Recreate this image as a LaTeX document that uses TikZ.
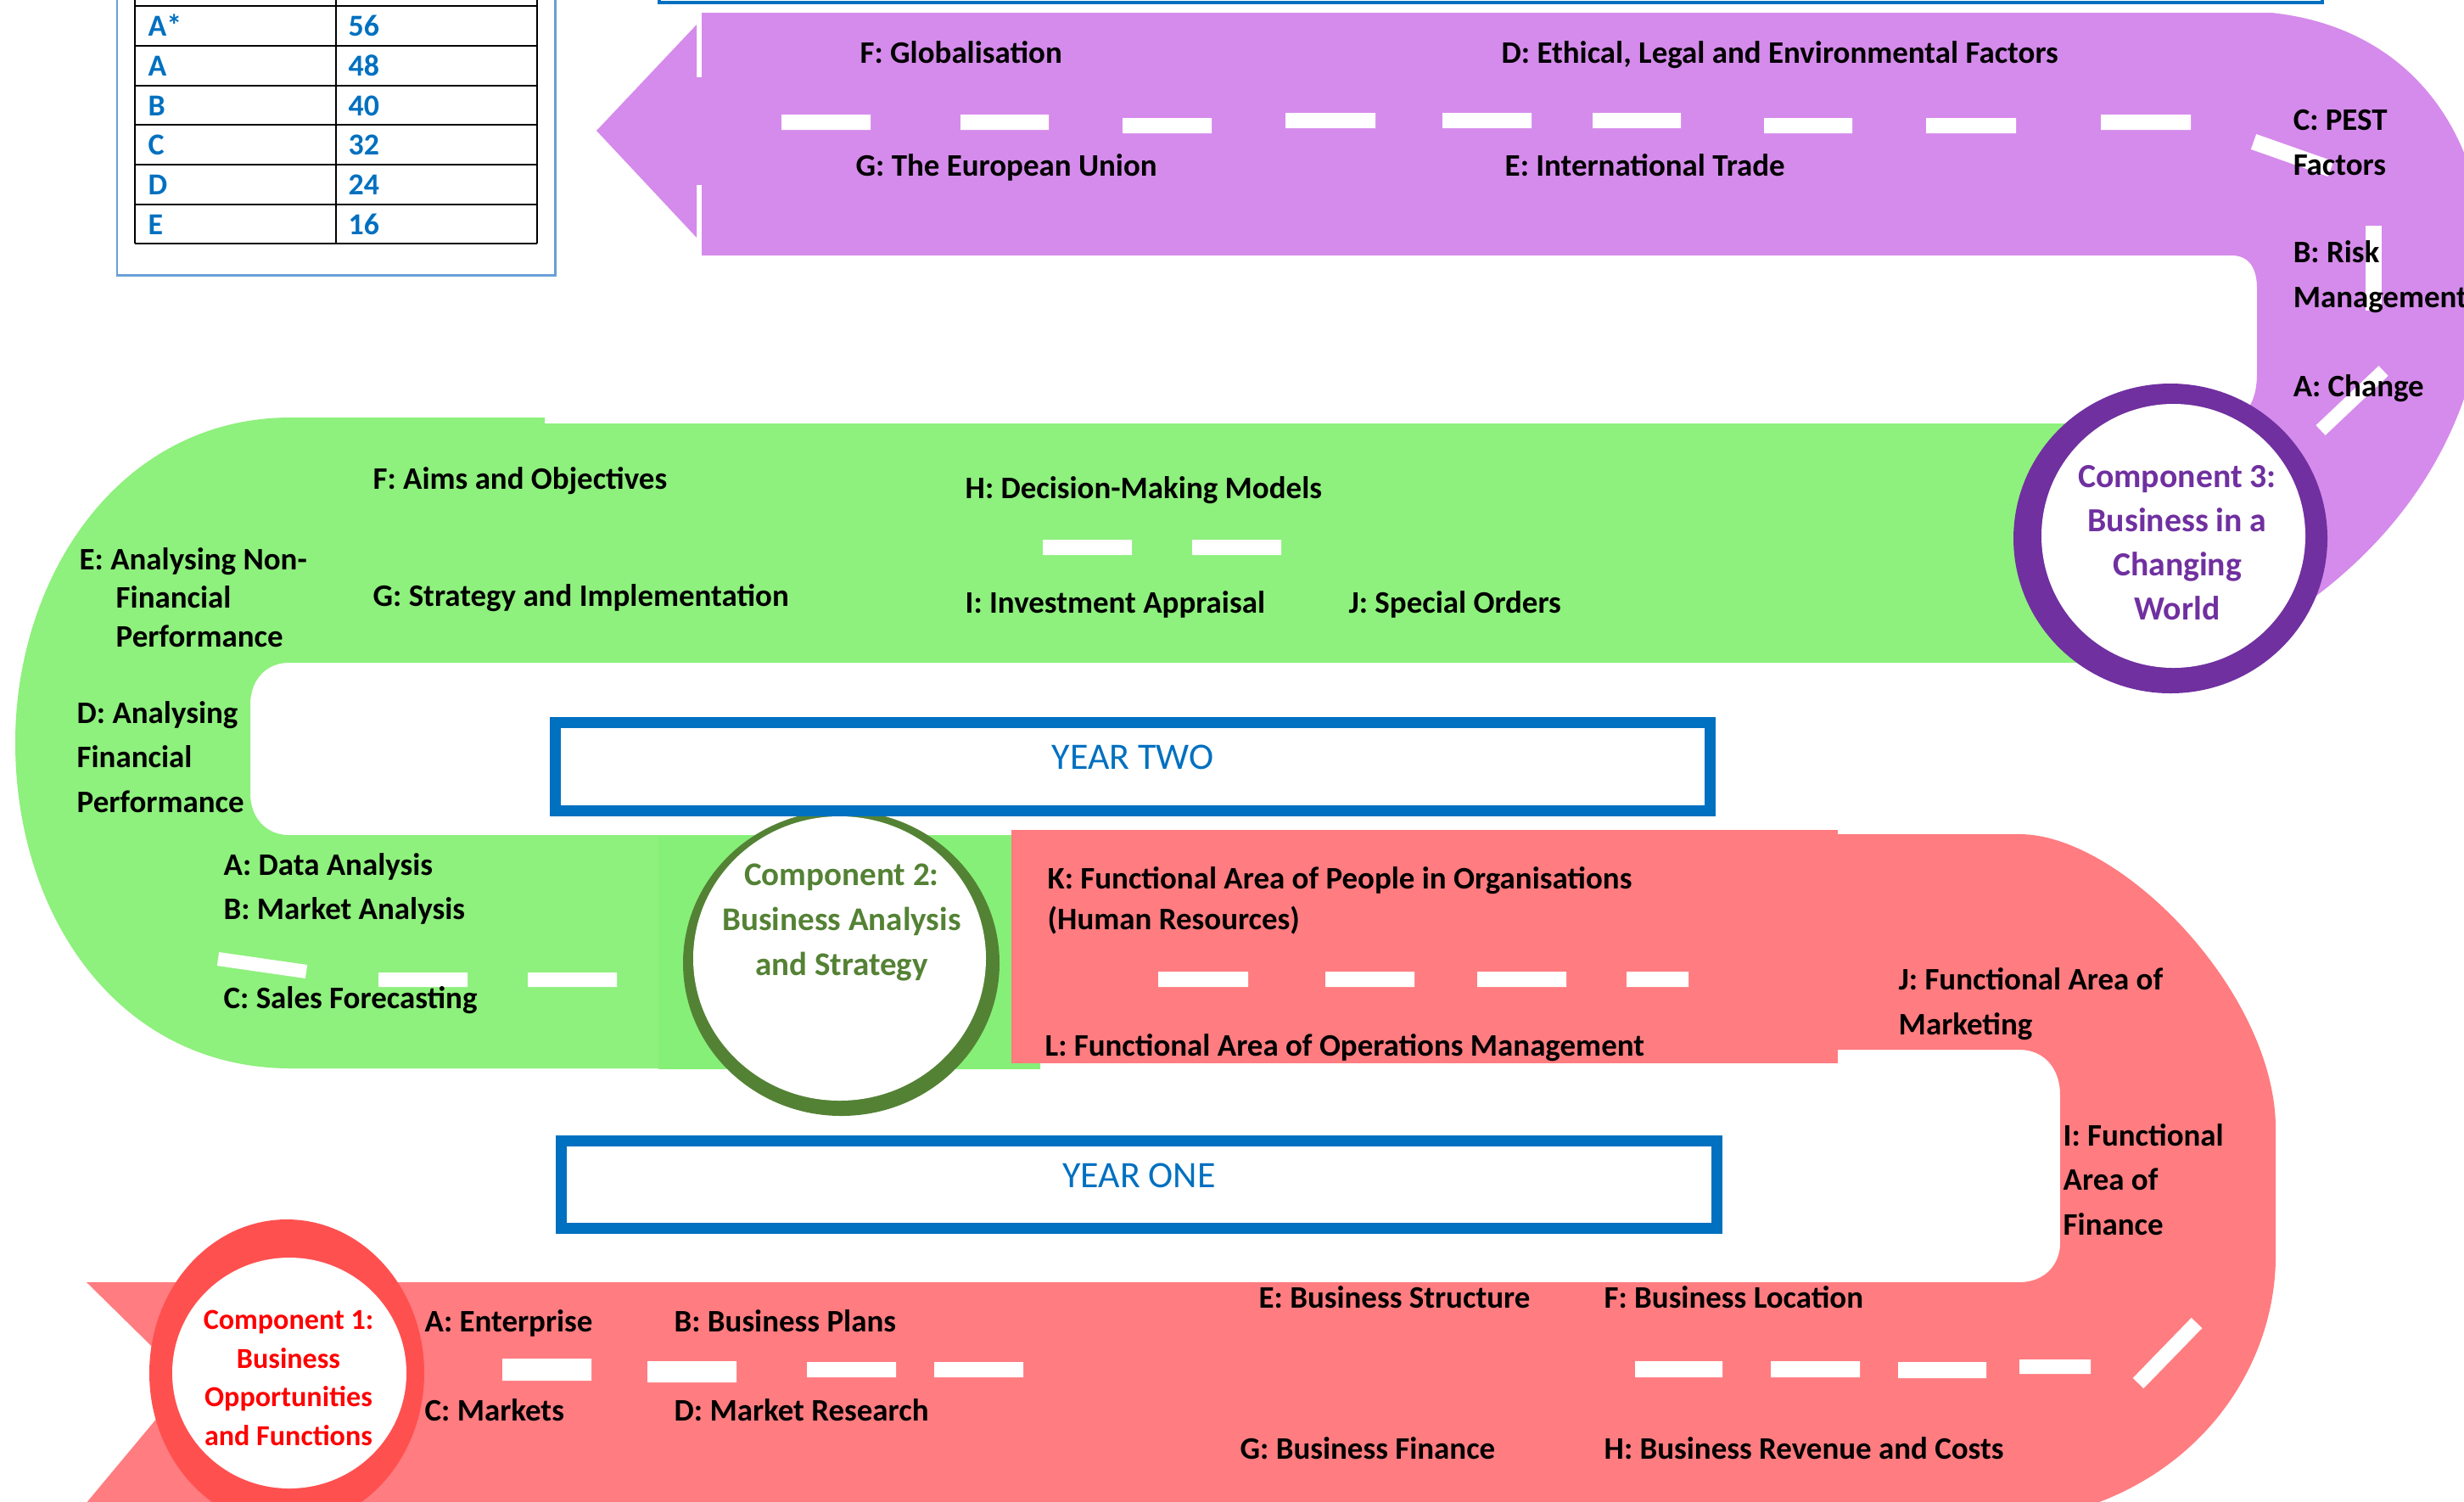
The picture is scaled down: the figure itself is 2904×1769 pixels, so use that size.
\documentclass[tikz,border=0pt]{standalone}
\usepackage{fontspec}
\setmainfont{Carlito}
\usepackage{xcolor}
\definecolor{roadpurple}{HTML}{D58BEB}
\definecolor{roadgreen}{HTML}{8EF07D}
\definecolor{roadgreenb}{HTML}{86EF78}
\definecolor{roadred}{HTML}{FF7C80}
\definecolor{ringred}{HTML}{FF5050}
\definecolor{ringgreen}{HTML}{548235}
\definecolor{ringpurple}{HTML}{7030A0}
\definecolor{yearblue}{HTML}{0070C0}
\definecolor{tableblue}{HTML}{6A9FD8}
\tikzset{
  roadlabel/.style={anchor=base west, inner sep=0pt, align=left,
    font=\fontsize{10.5pt}{14.8pt}\selectfont\bfseries},
  roadmark/.style={fill=white},
  markline/.style={draw=white, line width=5pt},
  yearbox/.style={draw=yearblue, line width=3.7pt, text=yearblue,
    font=\fontsize{12.5pt}{15pt}\selectfont, text depth=0.22cm},
  comptext/.style={inner sep=0pt, align=center},
  gradetext/.style={anchor=base west, inner sep=0pt, text=yearblue,
    font=\fontsize{10.2pt}{12pt}\selectfont\bfseries},
  gridline/.style={draw=black, line width=0.75pt}
}

\begin{document}
\begin{tikzpicture}[x=0.01cm, y=-0.01cm]
    \useasboundingbox (0,0) rectangle (2904,1769);

    % grade table
    \draw[tableblue, line width=0.85pt] (138,-20) rectangle (654,324);
    \draw[gridline] (159,-10) -- (159,287) (396,-10) -- (396,287) (633,-10) -- (633,287);
    \draw[gridline] (159,7) -- (633,7) (159,54) -- (633,54) (159,101) -- (633,101)
                    (159,147) -- (633,147) (159,194) -- (633,194) (159,241) -- (633,241)
                    (159,287) -- (633,287);
    \node[gradetext] (gastar) at (174,42) {A*};
    \node[gradetext] (mastar) at (410,42) {56};
    \node[gradetext] (ga) at (174,89) {A};
    \node[gradetext] (ma) at (410,89) {48};
    \node[gradetext] (gb) at (174,136) {B};
    \node[gradetext] (mb) at (410,136) {40};
    \node[gradetext] (gc) at (174,182) {C};
    \node[gradetext] (mc) at (410,182) {32};
    \node[gradetext] (gd) at (174,229) {D};
    \node[gradetext] (md) at (410,229) {24};
    \node[gradetext] (ge) at (174,276) {E};
    \node[gradetext] (me) at (410,276) {16};

    % frame at the top
    \draw[yearblue, line width=1.2pt] (777,-60) rectangle (2737,3);

    % purple road (year two, component 3)
    \fill[roadpurple] (827,15) -- (2677,15) .. controls (2820,30) and (2920,130) .. (2930,300)
        .. controls (2935,460) and (2860,650) .. (2620,770) -- (2480,770) -- (2480,499)
        -- (2625,499) .. controls (2650,490) and (2660,470) .. (2660,440) -- (2660,340)
        .. controls (2660,315) and (2650,301) .. (2630,301) -- (827,301) -- cycle;
    \fill[roadpurple] (821,29) -- (703,154) -- (821,280) -- cycle;
    \fill[roadpurple] (819,91) rectangle (829,218);

    % green road
    \fill[roadgreen] (2560,499) -- (642,499) -- (642,492) -- (343,492)
        .. controls (140,492) and (18,680) .. (18,875)
        .. controls (18,1080) and (140,1259) .. (343,1259) -- (1226,1259) -- (1226,984)
        -- (340,984) .. controls (315,984) and (295,965) .. (295,935) -- (295,830)
        .. controls (295,800) and (315,781) .. (340,781) -- (2560,781) -- cycle;
    \fill[roadgreenb] (776,985) rectangle (1226,1260);

    % red road
    \fill[roadred] (1192,978) rectangle (2166,1253);
    \fill[roadred] (2166,983) -- (2380,983) .. controls (2500,983) and (2682,1170) .. (2682,1330)
        -- (2682,1480) .. controls (2682,1620) and (2580,1760) .. (2400,1790) -- (86,1790)
        -- (221,1628) -- (102,1511) -- (2380,1511) .. controls (2410,1511) and (2428,1490) .. (2428,1465)
        -- (2428,1290) .. controls (2428,1260) and (2410,1237) .. (2380,1237) -- (2166,1237) -- cycle;

    % road markings
    \fill[roadmark] (921,135) rectangle (1026,153) (1132,135) rectangle (1236,153)
        (1323,139) rectangle (1428,157) (1515,133) rectangle (1621,151)
        (1700,133) rectangle (1805,151) (1877,133) rectangle (1981,151)
        (2079,139) rectangle (2183,157) (2270,139) rectangle (2376,157)
        (2476,135) rectangle (2582,153);
    \draw[markline, line width=5.4pt] (2656,167) -- (2747,199);
    \fill[roadmark] (2788,266) rectangle (2807,366);
    \draw[markline, line width=4.6pt] (2735,507) -- (2809,437);
    \fill[roadmark] (1229,636) rectangle (1334,654) (1405,636) rectangle (1510,654);
    \fill[roadmark] (446,1146) rectangle (551,1163) (622,1146) rectangle (727,1163);
    \draw[markline, line width=4.6pt] (257,1130) -- (361,1145);
    \fill[roadmark] (1365,1145) rectangle (1471,1163) (1562,1145) rectangle (1667,1163)
        (1741,1145) rectangle (1846,1163) (1917,1145) rectangle (1990,1163);
    \fill[roadmark] (592,1601) rectangle (697,1627) (763,1604) rectangle (868,1629)
        (951,1605) rectangle (1056,1623) (1101,1605) rectangle (1206,1623)
        (1927,1604) rectangle (2030,1623) (2087,1604) rectangle (2192,1623)
        (2237,1605) rectangle (2341,1624) (2380,1602) rectangle (2464,1619);
    \draw[markline] (2520,1630) -- (2589,1559);

    % component rings
    \fill[ringred] (338,1618) ellipse [x radius=162, y radius=181];
    \fill[white] (341,1618) ellipse [x radius=138, y radius=136];
    \fill[ringgreen] (991.5,1135) ellipse [x radius=186.5, y radius=180];
    \fill[white] (989.5,1129.5) ellipse [x radius=172.5, y radius=167.5];
    \fill[ringpurple] (2558,634.5) ellipse [x radius=185, y radius=182.5];
    \fill[white] (2561.5,631.5) ellipse [x radius=155.5, y radius=155.5];

    \node[comptext, text=red, font=\fontsize{9.7pt}{13pt}\selectfont\bfseries]
        (compone) at (340,1624) {Component 1:\\Business\\Opportunities\\and Functions};
    \node[comptext, text=ringgreen, font=\fontsize{11.1pt}{15.1pt}\selectfont\bfseries]
        (comptwo) at (992,1087) {Component 2:\\Business Analysis\\and Strategy};
    \node[comptext, text=ringpurple, font=\fontsize{11.3pt}{14.8pt}\selectfont\bfseries]
        (compthree) at (2566,640) {Component 3:\\Business in a\\Changing\\World};

    % year boxes
    \node[yearbox, minimum width=13.61cm, minimum height=1.04cm] (yeartwo) at (1335,903.5) {YEAR TWO};
    \node[yearbox, minimum width=13.62cm, minimum height=1.03cm] (yearone) at (1342.5,1396) {YEAR ONE};

    % component 3 topics
    \node[roadlabel] (glob) at (1013,74) {F: Globalisation};
    \node[roadlabel] (ethical) at (1769,74) {D: Ethical, Legal and Environmental Factors};
    \node[roadlabel] (euunion) at (1008,207) {G: The European Union};
    \node[roadlabel] (inttrade) at (1773,207) {E: International Trade};
    \node[roadlabel] (pest) at (2702,206) {C: PEST\\Factors};
    \node[roadlabel] (risk) at (2702,362) {B: Risk\\Management};
    \node[roadlabel] (change) at (2702,467) {A: Change};

    % component 2 topics
    \node[roadlabel] (aims) at (439,576) {F: Aims and Objectives};
    \node[roadlabel] (strategy) at (439,714) {G: Strategy and Implementation};
    \node[roadlabel] (nonfin) at (93,762) {E: Analysing Non-\\[-1.9pt]\hspace*{0.43cm}Financial\\[-1.9pt]\hspace*{0.43cm}Performance};
    \node[roadlabel] (finperf) at (90,957) {D: Analysing\\Financial\\Performance};
    \node[roadlabel] (dataan) at (263,1031) {A: Data Analysis};
    \node[roadlabel] (marketan) at (263,1083) {B: Market Analysis};
    \node[roadlabel] (salesfc) at (263,1188) {C: Sales Forecasting};
    \node[roadlabel] (decision) at (1137,587) {H: Decision-Making Models};
    \node[roadlabel] (investment) at (1137,722) {I: Investment Appraisal};
    \node[roadlabel] (specialord) at (1589,722) {J: Special Orders};

    % component 1 topics
    \node[roadlabel] (peopleorg) at (1234,1095) {K: Functional Area of People in Organisations\\[-1.4pt](Human Resources)};
    \node[roadlabel] (operations) at (1231,1244) {L: Functional Area of Operations Management};
    \node[roadlabel] (marketing) at (2237,1219) {J: Functional Area of\\Marketing};
    \node[roadlabel] (finance) at (2431,1455) {I: Functional\\Area of\\Finance};
    \node[roadlabel] (structure) at (1483,1541) {E: Business Structure};
    \node[roadlabel] (location) at (1890,1541) {F: Business Location};
    \node[roadlabel] (busfinance) at (1461,1719) {G: Business Finance};
    \node[roadlabel] (revenue) at (1890,1719) {H: Business Revenue and Costs};
    \node[roadlabel] (enterprise) at (500,1569) {A: Enterprise};
    \node[roadlabel] (plans) at (794,1569) {B: Business Plans};
    \node[roadlabel] (markets) at (500,1674) {C: Markets};
    \node[roadlabel] (research) at (794,1674) {D: Market Research};
\end{tikzpicture}
\end{document}
